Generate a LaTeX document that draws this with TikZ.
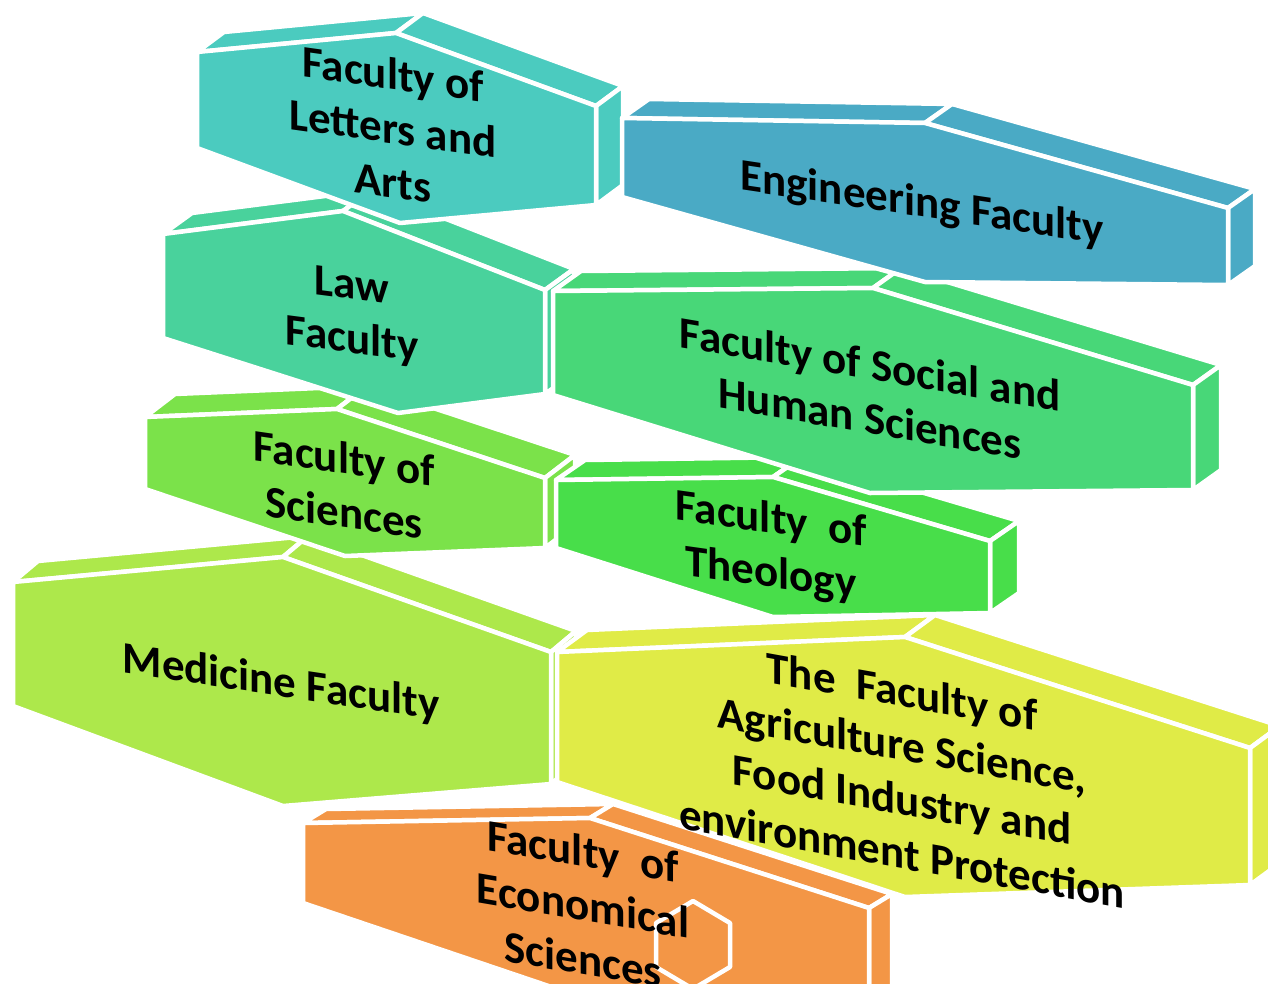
\documentclass[tikz,border=0pt]{standalone}
\usepackage{fontspec}
\setmainfont{Carlito}
\usetikzlibrary{calc}
\definecolor{cArts}{HTML}{4BCBBF}
\definecolor{cEng}{HTML}{4AAAC5}
\definecolor{cLaw}{HTML}{49D29C}
\definecolor{cSoc}{HTML}{48D778}
\definecolor{cSci}{HTML}{7BE24A}
\definecolor{cTheo}{HTML}{48DE4A}
\definecolor{cMed}{HTML}{ADE84B}
\definecolor{cAgri}{HTML}{E0EB47}
\definecolor{cEcon}{HTML}{F39646}
\tikzset{
  face/.style={fill=#1, draw=white, line width=4.5pt, line join=round},
  lbl/.style={font=\bfseries\fontsize{45}{54}\selectfont, align=center, text=black, inner sep=0pt}
}
\newcommand\hexprism[8]{%
  \filldraw[face=#1] (#2) -- (#3) -- ($(#3)+(#8)$) -- ($(#2)+(#8)$) -- cycle;
  \filldraw[face=#1] (#3) -- (#4) -- ($(#4)+(#8)$) -- ($(#3)+(#8)$) -- cycle;
  \filldraw[face=#1] (#4) -- (#5) -- ($(#5)+(#8)$) -- ($(#4)+(#8)$) -- cycle;
  \filldraw[face=#1] (#2) -- (#3) -- (#4) -- (#5) -- (#6) -- (#7) -- cycle;
}
\begin{document}
\begin{tikzpicture}[x=1pt,y=1pt]
\useasboundingbox (0,0) rectangle (1268,-983);
\fill[white] (0,0) rectangle (1268,-983);
\clip (0,0) rectangle (1268,-983);
% left column, bottom to top
\hexprism{cEcon}{303,-823}{590,-818}{869,-908}{869,-1010}{590,-1000}{303,-903}{23,14}
\draw[white, line width=4.5pt, line join=round] (693,-901) -- (730,-923) -- (730,-967) -- (693,-989) -- (656,-967) -- (656,-923) -- cycle;
\hexprism{cMed}{13,-582}{283,-557}{551,-652}{551,-784}{283,-806}{13,-706}{25,21}
\hexprism{cSci}{145,-417}{337,-409}{545,-478}{545,-548}{345,-556}{145,-489}{30,23}
\hexprism{cLaw}{163,-234}{343,-211}{545,-290}{545,-394}{398,-413}{163,-338}{29,21}
\hexprism{cArts}{197,-52}{396,-33}{596,-106}{596,-205}{400,-223}{197,-148}{27,20}
% right column, bottom to top
\hexprism{cAgri}{557,-652}{905,-637}{1250,-748}{1250,-885}{905,-897}{557,-782}{30,22}
\hexprism{cTheo}{556,-480}{773,-477}{990,-541}{990,-613}{773,-617}{556,-548}{29,20}
\hexprism{cSoc}{553,-291}{873,-288}{1193,-385}{1193,-490}{870,-493}{553,-395}{28,20}
\hexprism{cEng}{622,-118}{925,-123}{1228,-208}{1228,-285}{925,-282}{622,-197}{27,19}
% labels
\node[lbl, yslant=-0.14] (tArts) at (393,-128) {Faculty of\\Letters and\\Arts};
\node[lbl, yslant=-0.15] (tEng) at (922,-205) {Engineering Faculty};
\node[lbl, yslant=-0.13] (tLaw) at (352,-315) {Law\\Faculty};
\node[lbl, yslant=-0.17] (tSoc) at (870,-391) {Faculty of Social and\\Human Sciences};
\node[lbl, yslant=-0.145] (tSci) at (344,-485) {Faculty of\\Sciences};
\node[lbl, yslant=-0.14] (tTheo) at (771,-548) {Faculty~~of\\Theology};
\node[lbl, yslant=-0.15] (tMed) at (281,-684) {Medicine Faculty};
\node[lbl, yslant=-0.18] (tAgri) at (902,-772) {The~~Faculty of\\Agriculture Science,\\Food Industry and\\environment Protection};
\node[lbl, yslant=-0.17] (tEcon) at (583,-905) {Faculty~~of\\Economical\\Sciences};
\end{tikzpicture}
\end{document}
